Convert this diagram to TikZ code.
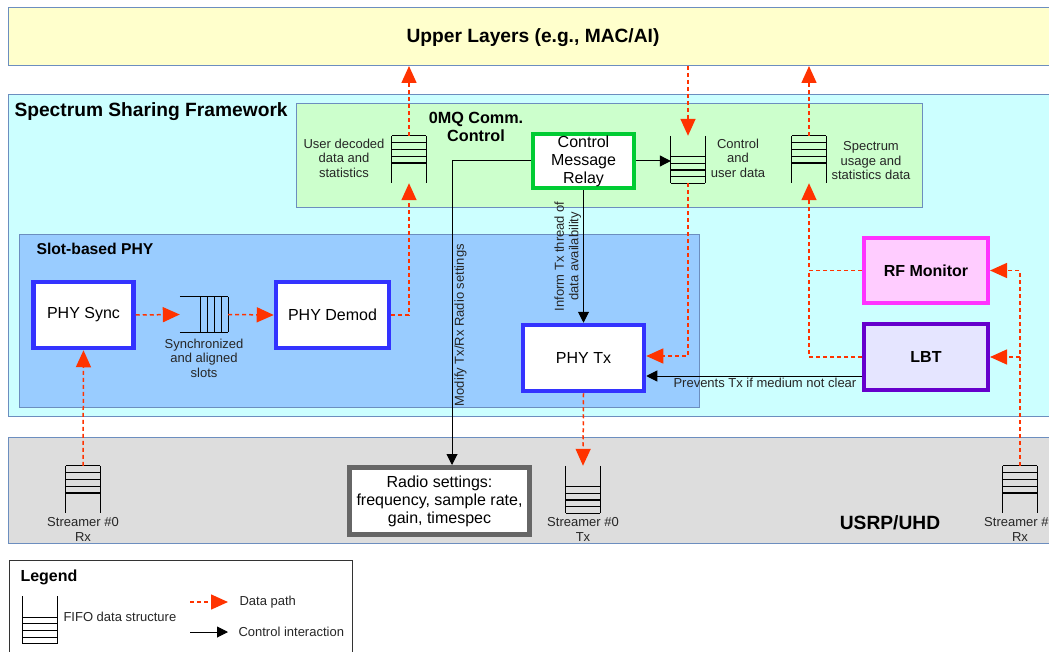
\documentclass[tikz,border=0pt]{standalone}
\usepackage{fontspec}
\setmainfont{Liberation Sans}
\usetikzlibrary{arrows.meta,positioning}

\definecolor{layerline}{HTML}{6C8EBF}
\definecolor{upperfill}{HTML}{FFFFCC}
\definecolor{ssffill}{HTML}{CCFFFF}
\definecolor{zmqfill}{HTML}{CCFFCC}
\definecolor{slotfill}{HTML}{99CCFF}
\definecolor{usrpfill}{HTML}{DDDDDD}
\definecolor{datared}{HTML}{FF3300}
\definecolor{phyblue}{HTML}{3333FF}
\definecolor{relaygreen}{HTML}{00CC33}
\definecolor{monline}{HTML}{FF33FF}
\definecolor{monfill}{HTML}{FFCCFF}
\definecolor{lbtline}{HTML}{6600CC}
\definecolor{lbtfill}{HTML}{E5E5FF}
\definecolor{radioline}{HTML}{666666}

\begin{document}
\begin{tikzpicture}[x=1pt,y=-1pt,
    layer/.style={draw=layerline, line width=1pt, anchor=north west, inner sep=0pt},
    block/.style={draw, fill=white, line width=4.5pt, inner sep=0pt, align=center,
      font=\fontsize{16}{18}\selectfont},
    fifo/.style={minimum width=34pt, minimum height=47pt, inner sep=0pt},
    fifoline/.style={line width=1.1pt, black},
    title/.style={font=\bfseries\fontsize{19.2}{22}\selectfont},
    note/.style={font=\fontsize{13}{14.5}\selectfont, align=center, text=black!85},
    datapath/.style={draw=datared, line width=1.5pt, dash pattern=on 4pt off 3pt,
      -{Triangle[length=17pt,width=15pt,fill=datared]}},
    ctrl/.style={draw=black, line width=1pt, -{Triangle[length=11pt,width=11pt]}}]
  \useasboundingbox (0,0) rectangle (1049,652);

  % Layers
  \node[layer, fill=upperfill, minimum width=1060pt, minimum height=58pt] (upper) at (8,7) {};
  \node[title] at (533,38) {Upper Layers (e.g., MAC/AI)};
  \node[layer, fill=ssffill, minimum width=1060pt, minimum height=322pt] (ssf) at (8,94) {};
  \node[title, anchor=west] at (11,112) {Spectrum Sharing Framework};
  \node[layer, fill=zmqfill, minimum width=626pt, minimum height=104pt] (zmq) at (296,103) {};
  \node[font=\bfseries\fontsize{16.2}{18.5}\selectfont, align=center] at (476,127) {0MQ Comm.\\Control};
  \node[layer, fill=slotfill, minimum width=680pt, minimum height=173pt] (slot) at (19,234) {};
  \node[font=\bfseries\fontsize{15.7}{18}\selectfont, anchor=west] at (33,249) {Slot-based PHY};
  \node[layer, fill=usrpfill, minimum width=1060pt, minimum height=106pt] (usrp) at (8,437) {};
  \node[title] at (890,523) {USRP/UHD};

  % Processing blocks
  \node[block, draw=phyblue, minimum width=100pt, minimum height=66pt] (physync) at (83.5,315) {PHY Sync};
  \node[block, draw=phyblue, minimum width=113pt, minimum height=66pt] (phydemod) at (332.5,315) {PHY Demod};
  \node[block, draw=phyblue, minimum width=121pt, minimum height=66pt] (phytx) at (583.5,358) {PHY Tx};
  \node[block, draw=relaygreen, line width=4pt, minimum width=101pt, minimum height=54pt] (cmr) at (583.5,161)
    {Control\\Message\\Relay};
  \node[block, draw=monline, fill=monfill, line width=4pt, minimum width=124pt, minimum height=65pt,
    font=\bfseries\fontsize{16}{18}\selectfont] (rfmon) at (926,270.5) {RF Monitor};
  \node[block, draw=lbtline, fill=lbtfill, line width=4pt, minimum width=124pt, minimum height=66pt,
    font=\bfseries\fontsize{16}{18}\selectfont] (lbt) at (926,357) {LBT};
  \node[block, draw=radioline, line width=5pt, minimum width=180pt, minimum height=67pt] (radio) at (439.5,501)
    {Radio settings:\\frequency, sample rate,\\gain, timespec};

  % FIFOs
  \node[fifo] (udq) at (409,159.5) {};
  \node[fifo] (ctq) at (688,159.5) {};
  \node[fifo] (spq) at (809,159.5) {};
  \node[minimum width=48pt, minimum height=35pt, inner sep=0pt] (slq) at (204,314.5) {};
  \node[fifo] (rx0q) at (83,489.5) {};
  \node[fifo] (tx0q) at (583,489.5) {};
  \node[fifo] (rx1q) at (1020,489.5) {};

  \foreach \q in {udq,spq,rx0q,rx1q}{
    \draw[fifoline] (\q.north west) -- (\q.south west) (\q.north east) -- (\q.south east);
    \foreach \k in {0,...,4}
      \draw[fifoline] ([yshift=-\k*6.8pt]\q.north west) -- ([yshift=-\k*6.8pt]\q.north east);
  }
  \foreach \q in {ctq,tx0q}{
    \draw[fifoline] (\q.north west) -- (\q.south west) (\q.north east) -- (\q.south east);
    \foreach \k in {0,...,4}
      \draw[fifoline] ([yshift=\k*6.6pt]\q.south west) -- ([yshift=\k*6.6pt]\q.south east);
  }
  \draw[fifoline] (slq.north west) -- (slq.north east) (slq.south west) -- (slq.south east);
  \foreach \k in {0,...,4}
    \draw[fifoline] ([xshift=-\k*7pt]slq.north east) -- ([xshift=-\k*7pt]slq.south east);

  % FIFO labels
  \node[note] at (344,158) {User decoded\\data and\\statistics};
  \node[note] at (738,158) {Control\\and\\user data};
  \node[note] at (871,161) {Spectrum\\usage and\\statistics data};
  \node[note, below=3pt of slq] {Synchronized\\and aligned\\slots};
  \node[note, below=1pt of rx0q] {Streamer \#0\\Rx};
  \node[note, below=1pt of tx0q] {Streamer \#0\\Tx};
  \node[note, below=1pt of rx1q] {Streamer \#1\\Rx};

  % Data paths
  \draw[datapath] (rx0q.north) -- (physync.south);
  \draw[datapath] (physync.east) -- (slq.west);
  \draw[datapath] (slq.east) -- (phydemod.west);
  \draw[datapath] (phydemod.east) -| (udq.south);
  \draw[datapath] (udq.north) -- (udq.north |- upper.south);
  \draw[datapath] (ctq.north |- upper.south) -- (ctq.north);
  \draw[datapath] (ctq.south) |- ([yshift=2pt]phytx.east);
  \draw[datapath] (spq.north) -- (spq.north |- upper.south);
  \draw[datapath, -] (lbt.west) -| (spq.south |- rfmon.west);
  \draw[datapath] (rfmon.west) -| (spq.south);
  \draw[datapath] (rx1q.north) |- (rfmon.east);
  \draw[datapath] (rx1q.north |- lbt.east) -- (lbt.east);
  \draw[datapath] (phytx.south) -- (tx0q.north);

  % Control interactions
  \draw[ctrl] (cmr.east) -- (cmr.east -| ctq.west);
  \draw[ctrl] (cmr.west) -| ([xshift=12.5pt]radio.north)
    node[pos=0.77, rotate=90, anchor=north, note, inner sep=2pt] {Modify Tx/Rx Radio settings};
  \draw[ctrl] (cmr.south) -- (phytx.north)
    node[midway, rotate=90, anchor=south, note, inner sep=2pt] {Inform Tx thread of\\data availability};
  \draw[ctrl] ([yshift=-19pt]lbt.west) -- ([yshift=-19pt]lbt.west -| phytx.east)
    node[pos=0.45, below, note, inner sep=2pt] {Prevents Tx if medium not clear};

  % Legend
  \node[layer, draw=black!80, fill=white, minimum width=343pt, minimum height=100pt] (legend) at (9,560) {};
  \node[font=\bfseries\fontsize{16}{18}\selectfont, anchor=west] at (17,577) {Legend};
  \node[fifo] (legq) at (40,620) {};
  \draw[fifoline] (legq.north west) -- (legq.south west) (legq.north east) -- (legq.south east);
  \foreach \k in {0,...,4}
    \draw[fifoline] ([yshift=\k*6.6pt]legq.south west) -- ([yshift=\k*6.6pt]legq.south east);
  \node[note, anchor=west] (lfifo) at (60,617) {FIFO data structure};
  \node[note, anchor=west] (ldata) at (236,602) {Data path};
  \node[note, anchor=west] (lctrl) at (235,632) {Control interaction};
  \draw[datapath] ([xshift=-46pt]ldata.west) -- ([xshift=-8pt]ldata.west);
  \draw[ctrl] ([xshift=-45pt]lctrl.west) -- ([xshift=-7pt]lctrl.west);
\end{tikzpicture}
\end{document}
